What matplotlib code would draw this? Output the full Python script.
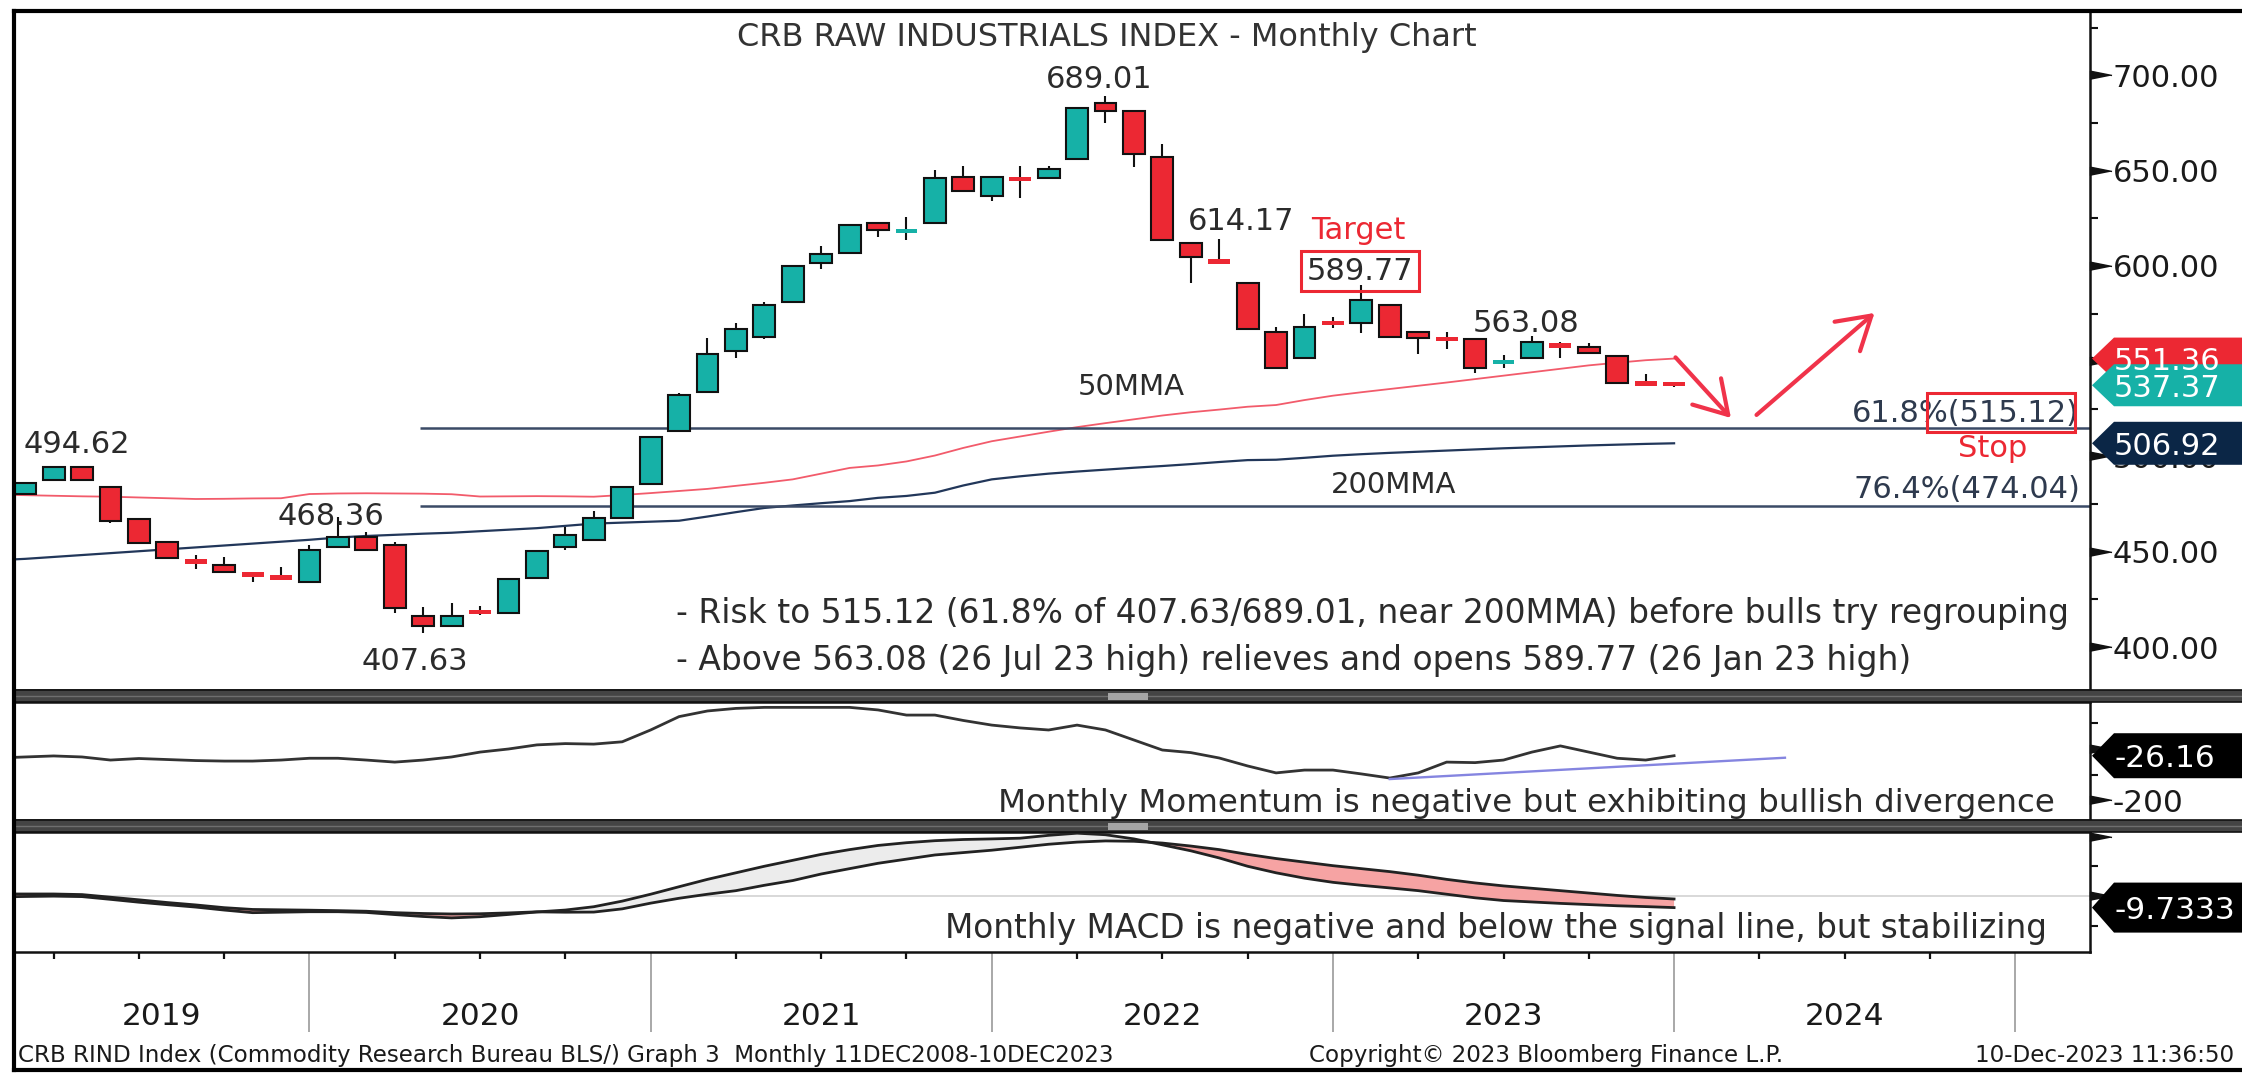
import numpy as np
import matplotlib
matplotlib.use('Agg')
import matplotlib.pyplot as plt
import pandas as pd
from matplotlib.patches import Rectangle, Polygon
from matplotlib.lines import Line2D
from matplotlib.transforms import IdentityTransform

W, H, DPI = 2242, 1074, 100

# ---------------- data ----------------
candle_months = pd.date_range('2019-02-01', '2023-12-01', freq='MS')
open_ = [480.2, 487.7, 494.3, 484.2, 467.4, 455.0, 445.6, 443.1, 439.1, 437.0,
         434.3, 452.3, 457.9, 453.6, 416.5, 411.3, 419.0, 418.0, 436.5, 452.3,
         456.2, 467.6, 485.6, 513.5, 533.6, 555.5, 562.9, 581.1, 601.4, 606.6,
         622.7, 617.8, 622.7, 646.8, 636.7, 646.5, 645.9, 655.9, 685.3, 681.4,
         657.3, 611.8, 603.1, 591.2, 565.5, 551.5, 570.5, 570.2, 579.5, 565.2,
         562.0, 561.5, 549.0, 551.5, 559.0, 557.6, 552.7, 538.8, 539.0]
high = [486.8, 494.4, 494.62, 484.5, 467.6, 455.3, 448.2, 447.5, 439.3, 442.2,
        453.6, 468.36, 460.2, 455.3, 420.9, 423.0, 421.6, 436.0, 451.0, 463.2,
        471.6, 484.2, 510.8, 533.5, 562.0, 569.9, 581.2, 600.5, 610.4, 622.0,
        623.2, 625.6, 650.3, 652.4, 647.2, 652.4, 652.4, 683.0, 689.01, 681.8,
        664.0, 612.2, 614.17, 591.5, 568.1, 574.8, 573.4, 589.77, 580.0, 565.6,
        565.2, 562.0, 553.3, 563.08, 560.3, 559.4, 553.0, 543.3, 539.2]
low = [479.6, 487.2, 487.3, 465.0, 454.5, 446.5, 440.8, 439.4, 434.0, 435.8,
       434.0, 452.0, 450.5, 417.7, 407.63, 410.4, 416.7, 417.5, 436.0, 451.0,
       455.8, 467.2, 485.2, 513.0, 533.2, 551.5, 561.5, 580.6, 598.2, 606.2,
       615.3, 613.6, 622.3, 639.2, 634.2, 635.5, 645.5, 655.5, 675.2, 652.0,
       613.3, 590.9, 601.0, 566.4, 546.0, 551.2, 567.3, 564.6, 562.5, 553.8,
       556.2, 543.7, 546.3, 551.2, 551.5, 553.8, 538.4, 537.5, 536.7]
close = [486.3, 494.3, 487.7, 466.2, 454.8, 446.9, 444.2, 439.6, 437.1, 436.0,
         450.9, 457.9, 450.9, 420.4, 411.3, 416.5, 417.8, 435.7, 450.6, 458.8,
         467.6, 483.8, 510.4, 532.3, 553.8, 566.7, 579.5, 600.1, 606.3, 621.5,
         618.8, 618.8, 645.9, 639.5, 646.8, 645.0, 650.8, 682.7, 681.4, 658.5,
         613.6, 604.9, 601.4, 566.7, 546.3, 568.1, 569.5, 582.1, 562.9, 562.0,
         561.0, 546.3, 550.0, 560.3, 557.5, 554.1, 538.7, 537.8, 537.37]

ind_months = pd.date_range('2019-01-01', '2023-12-01', freq='MS')
ma50 = [480.0, 479.7, 479.4, 479.1, 478.9, 478.5, 478.1, 477.7, 477.8, 478.0,
        478.1, 480.3, 480.6, 480.7, 480.6, 480.5, 480.2, 479.0, 479.1, 479.2,
        479.1, 478.9, 479.8, 480.8, 481.9, 483.0, 484.6, 486.2, 488.0, 491.0,
        494.0, 495.3, 497.4, 500.5, 504.5, 508.0, 510.5, 513.0, 515.4, 517.5,
        519.5, 521.5, 523.2, 524.6, 526.1, 527.0, 529.6, 531.9, 533.7, 535.4,
        537.1, 538.8, 540.6, 542.4, 544.2, 546.0, 547.8, 549.2, 550.5, 551.36]
ma200 = [445.6, 446.3, 447.3, 448.3, 449.3, 450.3, 451.3, 452.3, 453.3, 454.3,
         455.3, 456.3, 457.5, 458.3, 458.9, 459.5, 460.0, 460.8, 461.6, 462.4,
         463.6, 464.8, 465.3, 465.8, 466.3, 468.5, 470.8, 473.0, 474.3, 475.5,
         476.6, 478.3, 479.3, 481.0, 484.8, 488.0, 489.6, 491.0, 492.1, 493.1,
         494.1, 495.0, 496.0, 497.1, 498.1, 498.3, 499.3, 500.4, 501.2, 501.9,
         502.5, 503.1, 503.7, 504.3, 504.8, 505.3, 505.8, 506.2, 506.6, 506.92]
momentum = [-35, -31, -27, -31, -43, -37, -41, -45, -47, -47,
            -43, -36, -36, -43, -51, -43, -31, -12, 0, 16,
            21, 19, 28, 74, 126, 148, 158, 162, 162, 162,
            162, 152, 132, 132, 111, 93, 82, 74, 93, 74,
            35, -4, -14, -35, -66, -93, -82, -82, -97, -113,
            -93, -51, -53, -43, -12, 12, -12, -36, -43, -26.16]
macd = [-0.8, -0.4, -0.1, -0.5, -2.8, -5.2, -7.3, -9.3, -11.8, -14.0,
        -13.6, -13.2, -13.2, -13.8, -15.6, -17.2, -18.4, -17.4, -15.5, -13.4,
        -11.8, -9.0, -4.3, 1.5, 7.8, 14.0, 19.5, 25.0, 30.0, 35.0,
        39.0, 42.5, 44.8, 46.5, 47.5, 48.0, 48.6, 51.0, 52.8, 51.5,
        48.0, 43.0, 38.0, 32.0, 25.0, 19.5, 15.0, 11.5, 9.0, 6.8,
        4.5, 1.5, -1.5, -3.8, -5.0, -6.2, -7.2, -8.2, -8.9, -9.7333]
signal = [1.7, 1.7, 1.7, 1.2, -1.0, -3.2, -5.5, -7.5, -9.8, -11.3,
          -11.6, -11.9, -12.3, -12.8, -14.0, -14.7, -15.1, -14.9, -14.2, -13.3,
          -13.6, -13.5, -10.8, -6.0, -1.9, 1.5, 4.5, 9.0, 13.0, 18.5,
          23.0, 27.5, 31.0, 34.5, 36.5, 38.5, 41.0, 43.5, 45.3, 46.3,
          46.0, 44.5, 42.0, 39.0, 35.0, 31.5, 28.5, 25.5, 23.0, 20.5,
          17.5, 14.0, 11.0, 8.5, 6.5, 4.5, 2.5, 0.5, -1.2, -2.5]

fib_levels = [515.12, 474.04]
fib_labels = ['61.8%(515.12)', '76.4%(474.04)']
divergence_x = [50.0, 63.9]
divergence_y = [-117, -34]
years = [2019, 2020, 2021, 2022, 2023, 2024]
price_ticks = [400, 450, 500, 550, 600, 650, 700]
price_labels = ['400.00', '450.00', '500.00', '', '600.00', '650.00', '700.00']
price_minor = [425, 475, 525, 575, 625, 675, 725]

# ---------------- styling ----------------
TEAL = '#16b1a7'
RED = '#ec2833'
NAVY = '#0b2646'
MA200C = '#22375a'
MA50C = '#f25b6b'
FIBC = '#3b4a66'
TXT = '#2b2b2b'
ARROWC = '#f0334a'


def midx(d):
    return (d.year - 2019) * 12 + d.month


cx = np.array([midx(d) for d in candle_months], dtype=float)
ix = np.array([midx(d) for d in ind_months], dtype=float)
XLIM = (1.607, 74.63)

plt.rcParams['font.family'] = ['DejaVu Sans']
fig = plt.figure(figsize=(W / DPI, H / DPI), dpi=DPI)
fig.patch.set_facecolor('white')


def add_ax(x0, y0, x1, y1):
    return fig.add_axes([x0 / W, 1 - y1 / H, (x1 - x0) / W, (y1 - y0) / H])


ax = add_ax(14, 11, 2090, 690)
axm = add_ax(14, 702, 2090, 820)
axc = add_ax(14, 832, 2090, 951.7)

for a in (ax, axm, axc):
    a.set_xlim(*XLIM)
    for s in a.spines.values():
        s.set_linewidth(1.8)
        s.set_color('#111111')

ax.set_ylim(377.5, 733.7)
axm.set_ylim(-276.3, 182.9)
axc.set_ylim(-46.8, 53.8)

# ---------------- main panel ----------------
bw = 0.77
o = np.array(open_); c = np.array(close); hi = np.array(high); lo = np.array(low)
up = c >= o
cols = np.where(up, TEAL, RED)
ax.vlines(cx, lo, hi, color='#111111', lw=1.5, zorder=3)
body = np.abs(c - o)
doji = body < 2.6
bot = np.minimum(o, c)
ax.bar(cx[~doji], body[~doji], bottom=bot[~doji], width=bw, color=cols[~doji],
       edgecolor='#111111', linewidth=1.5, zorder=4)
dh = np.maximum(body[doji], 2.2)
dmid = (o[doji] + c[doji]) / 2
ax.bar(cx[doji], dh, bottom=dmid - dh / 2, width=bw, color=cols[doji],
       edgecolor='none', zorder=4)

ax.plot(ix, ma50, color=MA50C, lw=1.3, zorder=2)
ax.plot(ix, ma200, color=MA200C, lw=1.6, zorder=2)
ax.hlines(fib_levels, 15.9, XLIM[1], color=FIBC, lw=1.8, zorder=2)

lab = dict(fontsize=22, color=TXT, ha='center', va='baseline', zorder=6)
ax.text(40.05, 715.4, 'CRB RAW INDUSTRIALS INDEX - Monthly Chart', fontsize=23,
        color='#333333', ha='center', va='baseline')
ax.text(3.82, 501.8, '494.62', **lab)
ax.text(12.76, 464.1, '468.36', **lab)
ax.text(15.71, 387.9, '407.63', **lab)
ax.text(39.77, 693.5, '689.01', **lab)
ax.text(44.77, 618.8, '614.17', **lab)
ax.text(54.79, 565.5, '563.08', **lab)
ax.text(40.9, 532.3, '50MMA', fontsize=21, color=TXT, ha='center', va='baseline')
ax.text(50.15, 481.0, '200MMA', fontsize=21, color=TXT, ha='center', va='baseline')
ax.text(48.88, 614.0, 'Target', fontsize=22, color=RED, ha='center', va='baseline')
ax.text(48.95, 592.6, '589.77', fontsize=22, color=TXT, ha='center', va='baseline',
        bbox=dict(boxstyle='square,pad=0.18', fc='none', ec=RED, lw=2.2))
ax.text(74.25, 518.3, fib_labels[0], fontsize=22, color='#2e3a4e', ha='right', va='baseline')
ax.text(74.3, 478.1, fib_labels[1], fontsize=22, color='#2e3a4e', ha='right', va='baseline')
ax.add_patch(Rectangle((68.9, 512.9), 74.1 - 68.9, 533.2 - 512.9, fc='none',
                       ec=RED, lw=2.2, zorder=6))
ax.text(71.2, 499.9, 'Stop', fontsize=22, color=RED, ha='center', va='baseline')
ax.text(24.9, 412.7, '- Risk to 515.12 (61.8% of 407.63/689.01, near 200MMA) before bulls try regrouping',
        fontsize=23.7, color=TXT, ha='left', va='baseline')
ax.text(24.9, 387.9, '- Above 563.08 (26 Jul 23 high) relieves and opens 589.77 (26 Jan 23 high)',
        fontsize=23.7, color=TXT, ha='left', va='baseline')

arrow_kw = dict(arrowstyle='->,head_length=2.3,head_width=1.4', color=ARROWC, lw=3.0,
                mutation_scale=10, shrinkA=0, shrinkB=0)
ax.annotate('', xy=(62.0, 520.2), xytext=(60.05, 552.0), arrowprops=arrow_kw, zorder=7)
ax.annotate('', xy=(67.05, 575.3), xytext=(62.9, 521.8), arrowprops=arrow_kw, zorder=7)

TRI = [(0, -0.4), (0, 0.4), (2, 0)]


def right_axis(a, major, labels, minor, size):
    a.yaxis.tick_right()
    a.set_yticks(major)
    a.set_yticklabels(labels)
    a.set_yticks(minor, minor=True)
    a.tick_params(axis='y', which='major', length=0, pad=16.5, labelsize=size,
                  labelcolor='#1a1a1a')
    a.tick_params(axis='y', which='minor', length=6, width=1.5, color='#111111')
    a.plot(np.ones(len(major)), major, transform=a.get_yaxis_transform(), ls='none',
           marker=TRI, ms=31, color='#111111', clip_on=False, zorder=5)


right_axis(ax, price_ticks, price_labels, price_minor, 22)
ax.set_xticks([])

# ---------------- momentum ----------------
axm.plot(ix, momentum, color='#333333', lw=2.0)
axm.plot(divergence_x, divergence_y, color='#8585e0', lw=1.7)
axm.text(73.4, -244, 'Monthly Momentum is negative but exhibiting bullish divergence',
         fontsize=23.4, color=TXT, ha='right', va='baseline')
right_axis(axm, [-200, 0], ['-200', ''], [-100, 100], 22.5)
axm.set_xticks([])

# ---------------- MACD ----------------
m_ = np.array(macd); s_ = np.array(signal)
axc.axhline(0, color='#d6d6d6', lw=1.3, zorder=1)
axc.fill_between(ix, m_, s_, where=m_ < s_, interpolate=True, color='#f6a3a3', zorder=2, lw=0)
axc.fill_between(ix, m_, s_, where=m_ >= s_, interpolate=True, color='#ececec', zorder=2, lw=0)
axc.plot(ix, m_, color='#222222', lw=2.0, zorder=3)
axc.plot(ix, s_, color='#222222', lw=2.0, zorder=3)
axc.text(73.1, -35.5, 'Monthly MACD is negative and below the signal line, but stabilizing',
         fontsize=23.6, color=TXT, ha='right', va='baseline')
right_axis(axc, [0, 50], ['', ''], [-25, 25], 22.5)

year_edges = [12 * (y - 2019) for y in years[1:]] + [72]
quarters = [q for q in range(3, 73, 3) if q % 12 != 0]
axc.set_xticks(year_edges)
axc.set_xticklabels([])
axc.set_xticks(quarters, minor=True)
axc.tick_params(axis='x', which='major', length=57.6, width=1.2, color='#9a9a9a', direction='out')
axc.tick_params(axis='x', which='minor', length=5, width=1.6, color='#111111', direction='out')
for i, y in enumerate(years):
    left = max(12 * (y - 2019), XLIM[0])
    xc = (left + 12 * (y - 2018)) / 2
    axc.text(xc, -0.6124, str(y), transform=axc.get_xaxis_transform(), ha='center',
             va='baseline', fontsize=22.5, color='#1a1a1a')

# ---------------- tags ----------------
def tag(a, value, text, fc, tc, h, size=22):
    xs = a.transAxes.transform((1, 0))[0]
    ys = a.transData.transform((0, value))[1]
    pts = [(xs + 2, ys), (xs + 24, ys + h / 2), (W + 5, ys + h / 2),
           (W + 5, ys - h / 2), (xs + 24, ys - h / 2)]
    fig.add_artist(Polygon(pts, closed=True, fc=fc, ec='none',
                           transform=IdentityTransform(), zorder=10))
    fig.text((xs + 24) / W, ys / H, text, color=tc, fontsize=size, ha='left',
             va='center_baseline', zorder=11)


tag(ax, ma50[-1], f'{ma50[-1]:.2f}', RED, 'white', 42)
tag(ax, close[-1], f'{close[-1]:.2f}', TEAL, 'white', 42)
tag(ax, ma200[-1], f'{ma200[-1]:.2f}', NAVY, 'white', 43)
tag(axm, momentum[-1], f'{momentum[-1]:.2f}', 'black', 'white', 45, 22.5)
tag(axc, macd[-1], f'{macd[-1]:.4f}', 'black', 'white', 50, 22.5)

# ---------------- frame & separators ----------------
def fig_rect(x0, y0, x1, y1, **kw):
    fig.add_artist(Rectangle((x0, H - y1), x1 - x0, y1 - y0,
                             transform=IdentityTransform(), **kw))


for (y0, y1) in [(690, 702), (820, 832)]:
    fig_rect(14, y0, W + 2, y1, fc='#444444', ec='#111111', lw=1.2, zorder=8)
    fig.add_artist(Line2D([14, W], [H - (y0 + y1) / 2, H - (y0 + y1) / 2],
                          transform=IdentityTransform(), color='#6e6e6e', lw=1, zorder=8))
    fig_rect(1108, y0 + 2.5, 1148, y1 - 2.5, fc='#a5a5a5', ec='none', zorder=9)

for xs_, ys_ in [([14, 14], [11, 1070]), ([14, W], [11, 11]), ([14, W], [1070, 1070])]:
    fig.add_artist(Line2D(xs_, [H - v for v in ys_], transform=IdentityTransform(),
                          color='black', lw=3, zorder=12))

fig.text(18 / W, 1 - 1061.7 / H,
         'CRB RIND Index (Commodity Research Bureau BLS/) Graph 3  Monthly 11DEC2008-10DEC2023',
         fontsize=16.6, color='#1a1a1a', ha='left', va='baseline')
fig.text(1546 / W, 1 - 1061.7 / H, 'Copyright\u00a9 2023 Bloomberg Finance L.P.',
         fontsize=16.6, color='#1a1a1a', ha='center', va='baseline')
fig.text(1975 / W, 1 - 1061.7 / H, '10-Dec-2023 11:36:50',
         fontsize=16.6, color='#1a1a1a', ha='left', va='baseline')

fig.savefig('out.png', dpi=DPI)
